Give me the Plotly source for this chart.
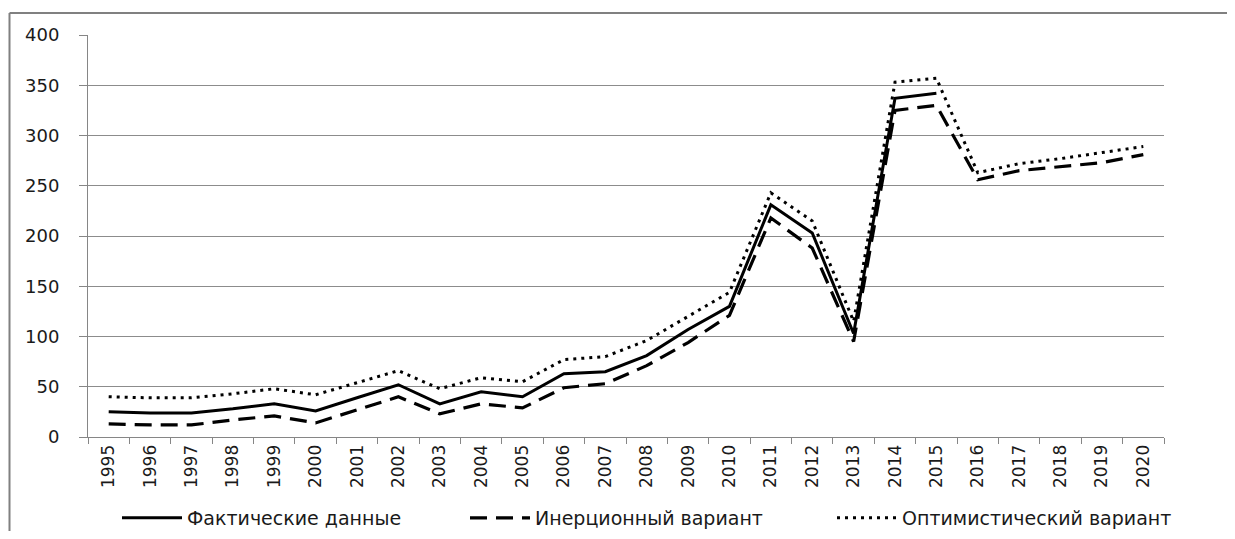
import plotly.graph_objects as go

years = [str(y) for y in range(1995, 2021)]
fact = [25, 24, 24, 28, 33, 26, 39, 52, 33, 45, 40, 63, 65, 81, 107, 130, 231, 203, 103, 337, 342]
inert = [13, 12, 12, 17, 21, 14, 27, 40, 23, 33, 29, 49, 53, 71, 94, 121, 218, 188, 95, 325, 330, 256, 265, 269, 273, 281]
optim = [40, 39, 39, 43, 48, 42, 54, 66, 48, 59, 55, 77, 80, 96, 120, 144, 243, 215, 115, 353, 357, 263, 272, 277, 283, 289]
names = ["Фактические данные", "Инерционный вариант", "Оптимистический вариант"]
yticks = [0, 50, 100, 150, 200, 250, 300, 350, 400]

FONT = "DejaVu Sans"
# page has an 8px body margin; figure coordinates = page coordinates - 8
OFF = 8
W, H = 1235 - 2 * OFF, 539 - 2 * OFF
L, R, T, B = 88 - OFF, 1164 - OFF, 35 - OFF, 437 - OFF
pw, ph = R - L, B - T

fig = go.Figure()
fig.add_trace(go.Scatter(x=years[:len(fact)], y=fact, name=names[0], mode="lines",
                         line=dict(color="black", width=3), legend="legend"))
fig.add_trace(go.Scatter(x=years, y=inert, name=names[1], mode="lines",
                         line=dict(color="black", width=3.2, dash="17px,9px"), legend="legend2"))
fig.add_trace(go.Scatter(x=years, y=optim, name=names[2], mode="lines",
                         line=dict(color="black", width=3, dash="3px,5px"), legend="legend3"))

def leg(xpage):
    return dict(orientation="h", xref="container", yref="container",
                x=(xpage - OFF) / W, xanchor="left",
                y=1 - (518 - OFF) / H, yanchor="middle",
                font=dict(family=FONT, size=19, color="#1a1a1a"), itemwidth=60,
                bgcolor="rgba(0,0,0,0)")

fig.update_layout(
    width=W, height=H,
    margin=dict(l=L, r=W - R, t=T, b=H - B),
    plot_bgcolor="white", paper_bgcolor="white",
    font=dict(family=FONT, size=17, color="#1a1a1a"),
    showlegend=True,
    legend=leg(117), legend2=leg(465), legend3=leg(832),
    xaxis=dict(type="category", range=[-0.5, 25.5], tickson="boundaries", ticks="outside", ticklen=6,
               tickcolor="#868686", showline=True, linecolor="#868686", linewidth=1,
               showgrid=False, tickangle=-90, automargin=False,
               tickfont=dict(family=FONT, size=17, color="#1a1a1a")),
    yaxis=dict(range=[0, 400], tickvals=yticks, ticks="outside", ticklen=8,
               tickcolor="#868686", showline=True, linecolor="#868686", linewidth=1,
               showgrid=True, gridcolor="#8c8c8c", gridwidth=1, zeroline=False,
               automargin=False, ticklabelstandoff=16,
               tickfont=dict(family=FONT, size=18, color="#1a1a1a")),
    shapes=[
        dict(type="line", xref="paper", yref="paper", x0=(1.5 - L) / pw, x1=(W - L) / pw,
             y0=1 + (T - 5) / ph, y1=1 + (T - 5) / ph, line=dict(color="#808080", width=2)),
        dict(type="line", xref="paper", yref="paper", x0=(1.5 - L) / pw, x1=(1.5 - L) / pw,
             y0=1 + (T - 5) / ph, y1=(B - H) / ph, line=dict(color="#808080", width=2)),
    ],
)
fig.write_html("out.html")
